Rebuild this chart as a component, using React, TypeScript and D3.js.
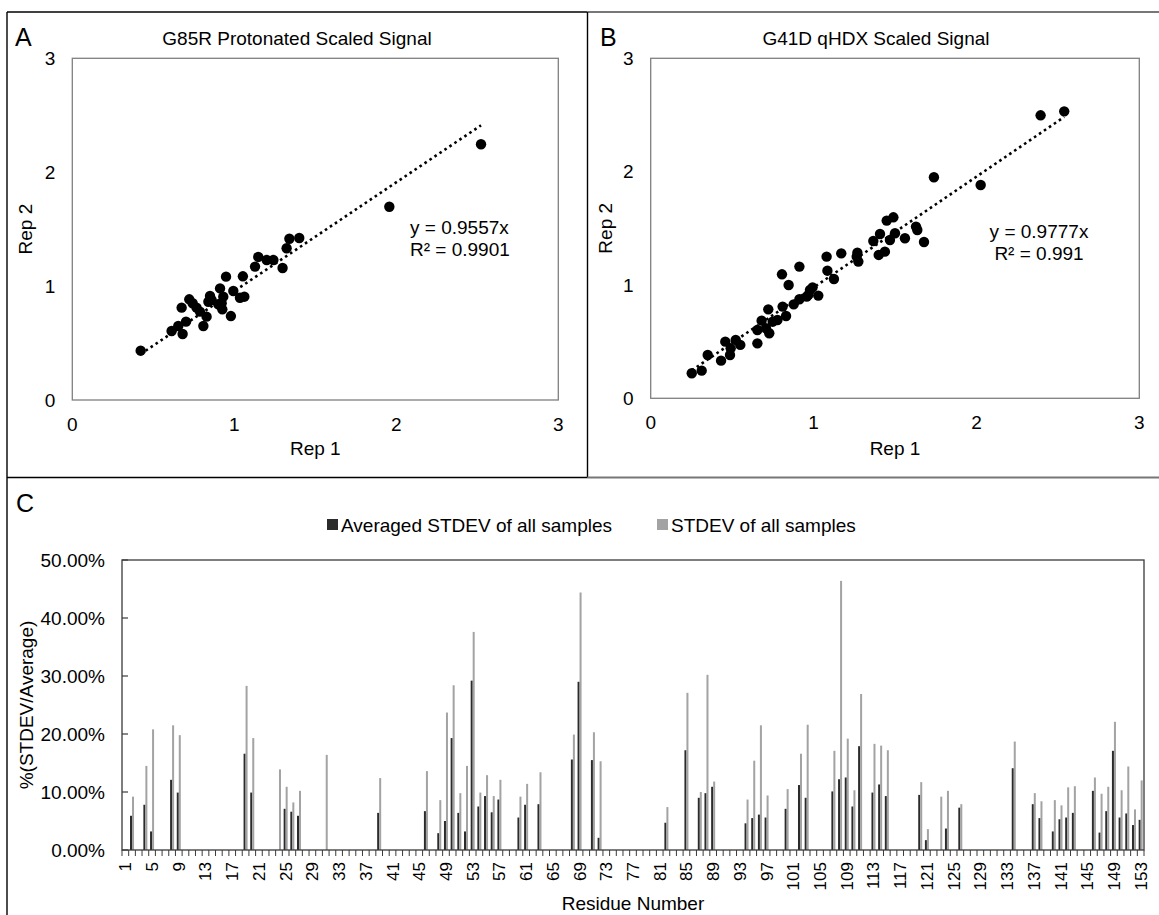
import React from "react";
import * as d3 from "d3";

const FONT = "'Liberation Sans', Arial, Helvetica, sans-serif";

// ---------- Panel A: G85R Protonated Scaled Signal ----------
const aRep1 = [0.422, 2.523, 1.957, 1.34, 1.401, 1.323, 1.148, 1.2, 1.241, 1.128, 1.298, 0.949, 1.053, 0.912, 0.994, 0.932, 1.035, 1.062, 0.85, 0.84, 0.922, 0.926, 0.979, 0.722, 0.675, 0.767, 0.788, 0.829, 0.809, 0.702, 0.654, 0.613, 0.681, 0.86, 0.743, 0.901];
const aRep2 = [0.433, 2.245, 1.697, 1.416, 1.422, 1.332, 1.256, 1.229, 1.229, 1.171, 1.159, 1.083, 1.086, 0.98, 0.957, 0.907, 0.898, 0.907, 0.913, 0.863, 0.849, 0.796, 0.737, 0.884, 0.811, 0.811, 0.776, 0.732, 0.65, 0.688, 0.65, 0.606, 0.579, 0.878, 0.849, 0.84];
const aSlope = 0.9557;
const aEq = ["y = 0.9557x", "R² = 0.9901"];

// ---------- Panel B: G41D qHDX Scaled Signal ----------
const bRep1 = [0.252, 0.313, 0.35, 0.432, 0.458, 0.487, 0.491, 0.522, 0.55, 0.655, 0.655, 0.681, 0.708, 0.728, 0.722, 0.749, 0.778, 0.81, 0.831, 0.806, 0.847, 0.913, 0.878, 0.913, 0.958, 0.978, 0.994, 1.029, 0.968, 1.08, 1.085, 1.125, 1.17, 1.269, 1.275, 1.367, 1.408, 1.449, 1.49, 1.5, 1.469, 1.4, 1.438, 1.561, 1.629, 1.637, 1.678, 1.739, 2.026, 2.394, 2.539, 1.265];
const bRep2 = [0.221, 0.244, 0.382, 0.332, 0.5, 0.382, 0.441, 0.515, 0.471, 0.485, 0.603, 0.685, 0.618, 0.574, 0.785, 0.676, 0.691, 0.809, 0.726, 1.094, 1.0, 1.162, 0.829, 0.874, 0.897, 0.956, 0.979, 0.906, 0.912, 1.25, 1.126, 1.053, 1.279, 1.285, 1.206, 1.388, 1.45, 1.568, 1.597, 1.456, 1.397, 1.265, 1.294, 1.412, 1.515, 1.485, 1.379, 1.95, 1.882, 2.497, 2.532, 1.25];
const bSlope = 0.9777;
const bEq = ["y = 0.9777x", "R² = 0.991"];

const scatterTicks = [0, 1, 2, 3];

// ---------- Panel C: STDEV per residue ----------
const cCategories = d3.range(1, 154);
const cTickLabels = d3.range(1, 154, 4);
const cResidues = [2, 4, 5, 8, 9, 19, 20, 24, 25, 26, 27, 31, 39, 46, 48, 49, 50, 51, 52, 53, 54, 55, 56, 57, 60, 61, 63, 68, 69, 71, 72, 82, 85, 87, 88, 89, 94, 95, 96, 97, 100, 102, 103, 107, 108, 109, 110, 111, 113, 114, 115, 120, 121, 123, 124, 126, 134, 137, 138, 140, 141, 142, 143, 146, 147, 148, 149, 150, 151, 152, 153];
const cAvgStdev = [5.9, 7.8, 3.2, 12.1, 9.9, 16.6, 9.9, 0, 7.1, 6.6, 5.9, 0, 6.4, 6.7, 2.9, 5.0, 19.3, 6.4, 3.2, 29.2, 7.5, 9.3, 6.5, 8.7, 5.6, 7.8, 7.9, 15.6, 29.0, 15.5, 2.1, 4.7, 17.2, 9.0, 9.8, 10.9, 4.6, 5.5, 6.1, 5.6, 7.1, 11.2, 9.0, 10.1, 12.2, 12.5, 7.5, 17.9, 9.9, 11.3, 9.3, 9.5, 1.7, 0, 3.7, 7.3, 14.1, 7.9, 5.5, 3.2, 5.3, 5.6, 6.4, 10.2, 3.0, 6.7, 17.1, 5.6, 6.3, 4.3, 5.2];
const cAllStdev = [9.2, 14.5, 20.8, 21.5, 19.8, 28.3, 19.3, 13.9, 10.9, 8.2, 10.2, 16.4, 12.4, 13.6, 8.6, 23.7, 28.4, 9.8, 14.5, 37.6, 9.9, 12.9, 9.3, 12.1, 9.2, 11.4, 13.4, 19.9, 44.4, 20.3, 15.3, 7.4, 27.1, 10.0, 30.2, 11.8, 8.7, 15.4, 21.5, 9.4, 10.5, 16.6, 21.6, 17.1, 46.4, 19.2, 10.3, 26.9, 18.3, 18.0, 17.2, 11.7, 3.6, 9.2, 10.2, 7.9, 18.7, 9.8, 8.4, 8.6, 7.7, 10.8, 11.0, 12.5, 9.7, 10.9, 22.1, 10.3, 14.4, 7.0, 12.0];
const cYTicks = [0, 10, 20, 30, 40, 50];
const cSeries = ["Averaged STDEV of all samples", "STDEV of all samples"];
const cColors = ["#2b2b2b", "#a3a3a3"];

const FS = 19;

type ScatterProps = {
  xs: number[]; ys: number[]; slope: number; eq: string[];
  eqX: number; eqY: number; eqAnchor: "start" | "middle";
  title: string; titleX: number; letter: string; letterX: number;
  left: number; right: number; top: number; bottom: number; yTitleX: number;
};

function Scatter(p: ScatterProps) {
  const x = d3.scaleLinear().domain([0, 3]).range([p.left, p.right]);
  const y = d3.scaleLinear().domain([0, 3]).range([p.bottom, p.top]);
  const xmin = d3.min(p.xs) as number;
  const xmax = d3.max(p.xs) as number;
  const line = d3.line<number>().x((d) => x(d)).y((d) => y(d * p.slope));
  return (
    <g>
      <text x={p.letterX} y={46} fontSize={25} fontFamily={FONT} fill="#000">{p.letter}</text>
      <text x={p.titleX} y={45} fontSize={FS} fontFamily={FONT} textAnchor="middle" fill="#000">{p.title}</text>
      <rect x={p.left} y={p.top} width={p.right - p.left} height={p.bottom - p.top} fill="none" stroke="#7f7f7f" strokeWidth={1.3} />
      {scatterTicks.map((t) => (
        <text key={"x" + t} x={x(t)} y={p.bottom + 24 + 6.8} fontSize={FS} fontFamily={FONT} textAnchor="middle" fill="#000">{t}</text>
      ))}
      {scatterTicks.map((t) => (
        <text key={"y" + t} x={p.left - 17} y={y(t) + 6.8} fontSize={FS} fontFamily={FONT} textAnchor="end" fill="#000">{t}</text>
      ))}
      <text x={(p.left + p.right) / 2} y={455} fontSize={FS} fontFamily={FONT} textAnchor="middle" fill="#000">Rep 1</text>
      <text transform={`translate(${p.yTitleX},${(p.top + p.bottom) / 2}) rotate(-90)`} fontSize={FS} fontFamily={FONT} textAnchor="middle" fill="#000">Rep 2</text>
      <path d={line([xmin, xmax]) || ""} fill="none" stroke="#000" strokeWidth={2.6} strokeDasharray="2.6 3.4" />
      {p.xs.map((v, i) => (
        <circle key={i} cx={x(v)} cy={y(p.ys[i])} r={5.2} fill="#000" />
      ))}
      {p.eq.map((s, i) => (
        <text key={s} x={p.eqX} y={p.eqY + i * 22} fontSize={FS} fontFamily={FONT} textAnchor={p.eqAnchor} fill="#000">{s}</text>
      ))}
    </g>
  );
}

function BarPanel() {
  const L = 122, R = 1144, T = 560, B = 850;
  const x = d3.scaleBand<number>().domain(cCategories).range([L, R]).paddingInner(0.4).paddingOuter(0.2);
  const sub = d3.scaleBand<number>().domain([0, 1]).range([0, x.bandwidth()]);
  const y = d3.scaleLinear().domain([0, 50]).range([B, T]);
  const step = x.step();
  const boundaries = d3.range(0, cCategories.length + 1).map((i) => L + i * step);
  const series = [cAvgStdev, cAllStdev];
  return (
    <g>
      <text x={16} y={512} fontSize={25} fontFamily={FONT} fill="#000">C</text>
      {/* legend */}
      <rect x={327} y={519} width={11} height={11} fill={cColors[0]} />
      <text x={341} y={532} fontSize={FS} fontFamily={FONT} fill="#000">{cSeries[0]}</text>
      <rect x={657} y={519} width={11} height={11} fill={cColors[1]} />
      <text x={671} y={532} fontSize={FS} fontFamily={FONT} fill="#000">{cSeries[1]}</text>
      {/* bars */}
      {series.map((vals, si) =>
        cResidues.map((r, i) => (
          <rect key={si + "-" + r} x={(x(r) as number) + (sub(si) as number)} y={y(vals[i])} width={sub.bandwidth()} height={B - y(vals[i])} fill={cColors[si]} />
        ))
      )}
      <rect x={L} y={T} width={R - L} height={B - T} fill="none" stroke="#3a3a3a" strokeWidth={1.3} />
      {cYTicks.map((t) => (
        <g key={t}>
          <line x1={L} x2={L + 6} y1={y(t)} y2={y(t)} stroke="#3a3a3a" strokeWidth={1.2} />
          <text x={L - 17} y={y(t) + 6.8} fontSize={FS} fontFamily={FONT} textAnchor="end" fill="#000">{t.toFixed(2) + "%"}</text>
        </g>
      ))}
      {boundaries.map((bx, i) => (
        <line key={i} x1={bx} x2={bx} y1={B} y2={B + 6} stroke="#3a3a3a" strokeWidth={1} />
      ))}
      {cTickLabels.map((t) => (
        <text key={t} transform={`translate(${(x(t) as number) + x.bandwidth() / 2 + 6},${B + 12}) rotate(-90)`} fontSize={17} fontFamily={FONT} textAnchor="end" fill="#000">{t}</text>
      ))}
      <text x={(L + R) / 2} y={910} fontSize={FS} fontFamily={FONT} textAnchor="middle" fill="#000">Residue Number</text>
      <text transform={`translate(${33},${(T + B) / 2}) rotate(-90)`} fontSize={FS} fontFamily={FONT} textAnchor="middle" fill="#000">%(STDEV/Average)</text>
    </g>
  );
}

export default function App() {
  return (
    <svg width={1159} height={915} viewBox="0 0 1159 915" style={{ position: "absolute", left: 0, top: 0, background: "#fff" }}>
      <rect x={0} y={0} width={1159} height={915} fill="#fff" />
      {/* panel frame lines */}
      <line x1={7} x2={7} y1={12} y2={915} stroke="#000" strokeWidth={1.4} />
      <line x1={7} x2={587.5} y1={12} y2={12} stroke="#000" strokeWidth={1.4} />
      <line x1={587.5} x2={1159} y1={12} y2={12} stroke="#777" strokeWidth={2} />
      <line x1={587.5} x2={587.5} y1={12} y2={477.5} stroke="#000" strokeWidth={1.4} />
      <line x1={7} x2={587.5} y1={477.5} y2={477.5} stroke="#000" strokeWidth={1.4} />
      <line x1={587.5} x2={1159} y1={477.5} y2={477.5} stroke="#777" strokeWidth={2} />
      <Scatter xs={aRep1} ys={aRep2} slope={aSlope} eq={aEq} eqX={410} eqY={234} eqAnchor="start"
        title="G85R Protonated Scaled Signal" titleX={297} letter="A" letterX={15}
        left={72.3} right={558.3} top={58.3} bottom={400} yTitleX={32} />
      <Scatter xs={bRep1} ys={bRep2} slope={bSlope} eq={bEq} eqX={1039} eqY={238} eqAnchor="middle"
        title="G41D qHDX Scaled Signal" titleX={876} letter="B" letterX={600}
        left={650.7} right={1139.3} top={58.3} bottom={398.3} yTitleX={612} />
      <BarPanel />
    </svg>
  );
}
